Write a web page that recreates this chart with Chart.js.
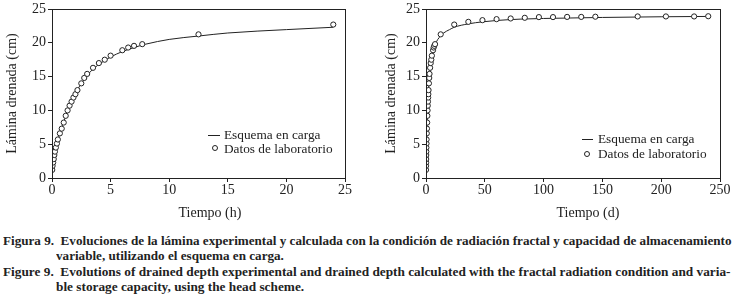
<!DOCTYPE html>
<html>
<head>
<meta charset="utf-8">
<script src="https://cdn.jsdelivr.net/npm/chart.js@4/dist/chart.umd.min.js"></script>
<style>
  body { margin: 0; background: #fff; width: 732px; height: 302px; overflow: hidden; position: relative; font-family: "Liberation Serif", serif; color: #222; }
  canvas { position: absolute; top: 0; }
  .xt { position: absolute; font-size: 14px; transform: translate(-50%, -50%); white-space: nowrap; }
  .leg { position: absolute; font-size: 13.3px; white-space: nowrap; line-height: 14px; }
  .leg .ln { position: absolute; height: 1px; background: #222; }
  .leg .pt { position: absolute; width: 4px; height: 4px; border: 1px solid #222; border-radius: 50%; background: #fff; }
  .cap { position: absolute; left: 3px; font-size: 13px; font-weight: bold; white-space: nowrap; transform-origin: 0 0; line-height: 14px; }
</style>
</head>
<body>
<canvas id="left" width="366" height="230" style="left:0"></canvas>
<canvas id="right" width="366" height="230" style="left:366px"></canvas>

<div class="xt" style="left:210px; top:213px">Tiempo (h)</div>
<div class="xt" style="left:588px; top:213px">Tiempo (d)</div>

<div class="leg" style="left:208px; top:128px">
  <div class="ln" style="left:0; top:7px; width:12px"></div>
  <div style="position:absolute; left:16px; top:0">Esquema en carga</div>
  <div class="pt" style="left:4px; top:17px"></div>
  <div style="position:absolute; left:16px; top:14px">Datos de laboratorio</div>
</div>
<div class="leg" style="left:582px; top:132px">
  <div class="ln" style="left:0; top:7px; width:11px"></div>
  <div style="position:absolute; left:16px; top:0">Esquema en carga</div>
  <div class="pt" style="left:2px; top:19px"></div>
  <div style="position:absolute; left:16px; top:15px">Datos de laboratorio</div>
</div>

<div class="cap" id="c1" style="top:234px">Figura 9.&nbsp; Evoluciones de la lámina experimental y calculada con la condición de radiación fractal y capacidad de almacenamiento</div>
<div class="cap" id="c2" style="top:249px; left:56px">variable, utilizando el esquema en carga.</div>
<div class="cap" id="c3" style="top:265px">Figure 9.&nbsp; Evolutions of drained depth experimental and drained depth calculated with the fractal radiation condition and varia-</div>
<div class="cap" id="c4" style="top:280px; left:56px">ble storage capacity, using the head scheme.</div>

<script>
// laboratory data (time, drained depth in cm)
const labTime = [0.02, 0.05, 0.1, 0.15, 0.2, 0.25, 0.33, 0.42, 0.5, 0.67, 0.83, 1.0, 1.17, 1.33, 1.5, 1.67, 1.83, 2.0, 2.17, 2.5, 2.75, 3.0, 3.5, 4.0, 4.5, 5.0, 6.0, 6.5, 7.0, 7.7, 12.5, 24, 36, 48, 60, 72, 84, 96, 108, 120, 132, 144, 180, 204, 228, 240]
const labDepth = [1.2, 1.8, 2.3, 2.8, 3.4, 3.9, 4.5, 5.1, 5.7, 6.6, 7.3, 8.2, 9.2, 10.0, 10.7, 11.3, 11.9, 12.4, 13.0, 14.0, 14.8, 15.4, 16.3, 17.0, 17.5, 18.1, 18.9, 19.3, 19.55, 19.8, 21.25, 22.7, 23.1, 23.35, 23.5, 23.6, 23.7, 23.8, 23.8, 23.83, 23.83, 23.86, 23.9, 23.9, 23.9, 23.93]

// calculated curve (esquema en carga)
const modelTime = [0, 0.05, 0.1, 0.2, 0.3, 0.5, 0.75, 1, 1.5, 2, 2.5, 3, 3.5, 4, 5, 6, 7, 8, 10, 12.5, 15, 20, 24, 36, 48, 60, 80, 100, 150, 200, 240]
const modelDepth = [0, 1.5, 2.2, 3.3, 4.2, 5.6, 7.1, 8.3, 10.6, 12.5, 14.0, 15.2, 16.1, 16.8, 17.9, 18.7, 19.3, 19.8, 20.5, 21.0, 21.45, 21.95, 22.3, 22.8, 23.1, 23.3, 23.5, 23.6, 23.75, 23.85, 23.9]

const yTicks = [0, 5, 10, 15, 20, 25]
const xTicksLeft = [0, 5, 10, 15, 20, 25]
const xTicksRight = [0, 50, 100, 150, 200, 250]

const ink = '#222'
const tickFont = { family: 'Liberation Serif', size: 14, lineHeight: 1 }

function pairs(xs, ys, maxX) {
  const out = []
  xs.forEach((x, i) => { if (x <= maxX) out.push({ x: x, y: ys[i] }) })
  return out
}

const frame = {
  id: 'frame',
  afterDraw(chart) {
    const a = chart.chartArea
    const c = chart.ctx
    c.save()
    c.strokeStyle = ink
    c.lineWidth = 1
    c.strokeRect(Math.round(a.left) + 0.5, Math.round(a.top) + 0.5, Math.round(a.right - a.left), Math.round(a.bottom - a.top))
    c.restore()
  }
}

function makeChart(id, xTicks, axisWidth, titlePad, rightPad) {
  const xMax = xTicks[xTicks.length - 1]
  return new Chart(document.getElementById(id), {
    type: 'scatter',
    data: {
      datasets: [{
        label: 'Esquema en carga',
        data: pairs(modelTime, modelDepth, xMax),
        showLine: true,
        borderColor: ink,
        borderWidth: 1,
        pointRadius: 0,
        cubicInterpolationMode: 'monotone',
        order: 2
      }, {
        label: 'Datos de laboratorio',
        data: pairs(labTime, labDepth, xMax),
        showLine: false,
        pointRadius: 2.6,
        pointBorderWidth: 1,
        pointBorderColor: ink,
        pointBackgroundColor: '#fff',
        order: 1
      }]
    },
    options: {
      responsive: false,
      animation: false,
      devicePixelRatio: 1,
      layout: { padding: { left: 0, top: 7, right: rightPad, bottom: 0 } },
      plugins: { legend: { display: false }, tooltip: { enabled: false } },
      scales: {
        x: {
          type: 'linear', min: 0, max: xMax,
          afterBuildTicks: s => { s.ticks = xTicks.map(v => ({ value: v })) },
          afterFit: s => { s.height = 52 },
          grid: { drawOnChartArea: false, drawTicks: true, tickLength: 4, color: ink },
          border: { display: true, color: ink },
          ticks: { color: ink, font: tickFont, padding: 1, maxRotation: 0 }
        },
        y: {
          type: 'linear', min: 0, max: 25,
          afterBuildTicks: s => { s.ticks = yTicks.map(v => ({ value: v })) },
          afterFit: s => { s.width = axisWidth },
          grid: { drawOnChartArea: false, drawTicks: true, tickLength: 4, color: ink },
          border: { display: true, color: ink },
          ticks: { color: ink, font: tickFont, padding: 2 },
          title: { display: true, text: 'Lámina drenada (cm)', color: ink, font: { family: 'Liberation Serif', size: 14 }, padding: { top: titlePad, bottom: 0 } }
        }
      }
    },
    plugins: [frame]
  })
}

makeChart('left', xTicksLeft, 52, 4, 21)
makeChart('right', xTicksRight, 60, 17, 12)

// squeeze caption lines to the printed width
function fit(a, b, w) {
  const k = w / document.getElementById(a).offsetWidth
  document.getElementById(a).style.transform = 'scaleX(' + k + ')'
  document.getElementById(b).style.transform = 'scaleX(' + k + ')'
}
fit('c1', 'c2', 728)
fit('c3', 'c4', 728)
</script>
</body>
</html>
